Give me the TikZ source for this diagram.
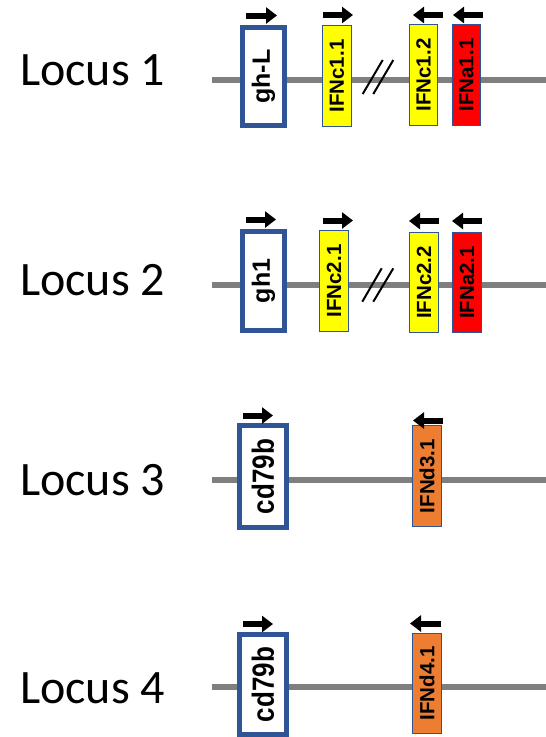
\documentclass[tikz,border=0pt]{standalone}
\usepackage{fontspec}
\setmainfont{Carlito}
\newfontfamily\genefont{Liberation Sans}[BoldFont={Liberation Sans Bold}]
\usetikzlibrary{arrows.meta}

\definecolor{geneblue}{HTML}{2F5597}
\definecolor{chromgray}{HTML}{7F7F7F}
\definecolor{ifnyellow}{HTML}{FFFF00}
\definecolor{ifnred}{HTML}{FF0000}
\definecolor{ifnorange}{HTML}{ED7D31}

\tikzset{
  chrom/.style={draw=chromgray, line width=6pt},
  locuslabel/.style={anchor=base west, inner sep=0pt, font=\fontsize{48}{52}\selectfont},
  hostgene/.style={draw=geneblue, line width=5pt, fill=white, rotate=90, inner sep=0pt,
    font=\genefont\bfseries\fontsize{25}{27}\selectfont},
  ifngene/.style={draw=geneblue, line width=1.5pt, rotate=90, inner sep=0pt,
    font=\genefont\bfseries\fontsize{20.5}{22}\selectfont},
  orient/.style={line width=6pt, -{Triangle[length=11pt, width=16pt]}},
  breakmark/.style={line width=2pt, black},
}

\begin{document}
\begin{tikzpicture}[x=1pt, y=-1pt]
\useasboundingbox (0,0) rectangle (546,737);

% ---------------- Locus 1 ----------------
\coordinate (l1a) at (212,80);
\coordinate (l1b) at (546,80);
\draw[chrom] (l1a) -- (l1b);
\node[locuslabel] (lab1) at (20,85) {Locus 1};
\node[hostgene, minimum width=98pt, minimum height=42pt] (ghL) at (263.5,76.5) {gh-L};
\node[ifngene, fill=ifnyellow, minimum width=101pt, minimum height=29pt] (c11) at (337,76) {IFNc1.1};
\node[ifngene, fill=ifnyellow, minimum width=101pt, minimum height=28pt] (c12) at (423.5,75) {IFNc1.2};
\node[ifngene, fill=ifnred, minimum width=101pt, minimum height=28pt] (a11) at (466.5,75) {IFNa1.1};
\draw[breakmark] (362.7,94) -- (382.7,60);
\draw[breakmark] (373.3,94) -- (393.3,60);
\draw[orient] (246,15.5) -- (277,15.5);
\draw[orient] (323,15) -- (353,15);
\draw[orient] (443,15) -- (413,15);
\draw[orient] (483,15) -- (453,15);

% ---------------- Locus 2 ----------------
\coordinate (l2a) at (212,284.5);
\coordinate (l2b) at (546,284.5);
\draw[chrom] (l2a) -- (l2b);
\node[locuslabel] (lab2) at (20,295) {Locus 2};
\node[hostgene, minimum width=99pt, minimum height=42pt] (gh1) at (263.5,281) {gh1};
\node[ifngene, fill=ifnyellow, minimum width=101pt, minimum height=29pt] (c21) at (334,281) {IFNc2.1};
\node[ifngene, fill=ifnyellow, minimum width=100pt, minimum height=29pt] (c22) at (424,282.5) {IFNc2.2};
\node[ifngene, fill=ifnred, minimum width=100pt, minimum height=29pt] (a21) at (467,282.5) {IFNa2.1};
\draw[breakmark] (362.3,301.7) -- (381.7,268.3);
\draw[breakmark] (373.3,301.7) -- (393.3,268.3);
\draw[orient] (246,219.5) -- (276,219.5);
\draw[orient] (323,220.5) -- (353,220.5);
\draw[orient] (439,221) -- (409,221);
\draw[orient] (482,221) -- (452,221);

% ---------------- Locus 3 ----------------
\coordinate (l3a) at (212,480);
\coordinate (l3b) at (546,480);
\draw[chrom] (l3a) -- (l3b);
\node[locuslabel] (lab3) at (20,495) {Locus 3};
\node[hostgene, font=\genefont\bfseries\fontsize{26}{28}\selectfont,
      minimum width=102pt, minimum height=47pt] (cd3) at (263,476.5) {\scalebox{1}[1.18]{cd79b}};
\node[ifngene, fill=ifnorange, minimum width=101pt, minimum height=29pt] (d31) at (427,476) {IFNd3.1};
\draw[orient] (243,415.5) -- (273,415.5);
\draw[orient] (443,420.5) -- (413,420.5);

% ---------------- Locus 4 ----------------
\coordinate (l4a) at (212,687);
\coordinate (l4b) at (546,687);
\draw[chrom] (l4a) -- (l4b);
\node[locuslabel] (lab4) at (20,703) {Locus 4};
\node[hostgene, font=\genefont\bfseries\fontsize{26}{28}\selectfont,
      minimum width=100pt, minimum height=47pt] (cd4) at (263,684.5) {\scalebox{1}[1.18]{cd79b}};
\node[ifngene, fill=ifnorange, minimum width=100pt, minimum height=29pt] (d41) at (427,683.5) {IFNd4.1};
\draw[orient] (243,624) -- (273,624);
\draw[orient] (441,623.5) -- (410,623.5);
\end{tikzpicture}
\end{document}
